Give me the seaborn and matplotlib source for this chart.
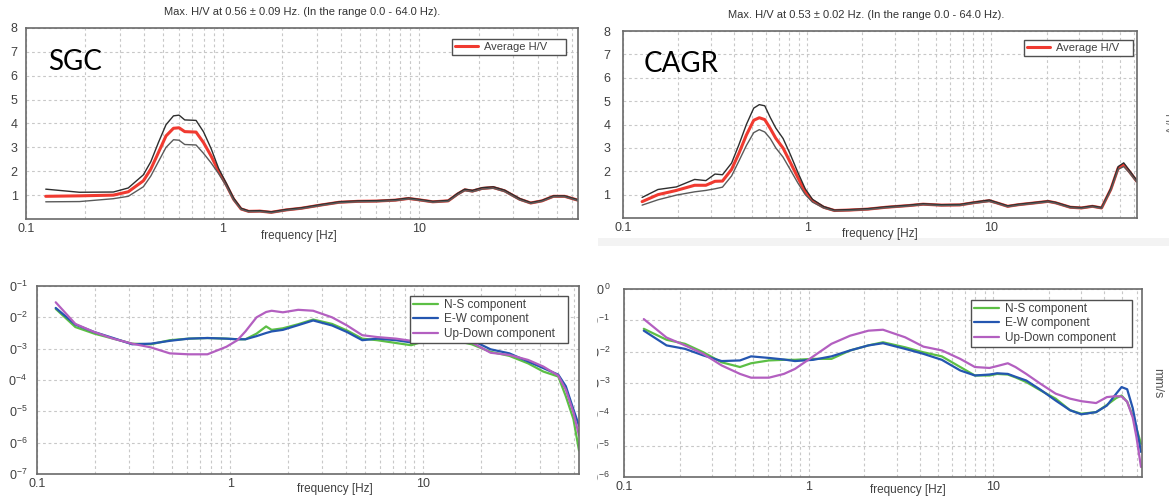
import matplotlib
matplotlib.use("Agg")
import matplotlib.pyplot as plt
import matplotlib.ticker as mticker
from matplotlib.patches import Rectangle
import numpy as np
import seaborn as sns

# ---- SGC, H/V (top left) ----
sgc_freq = [0.126, 0.187, 0.278, 0.331, 0.395, 0.431, 0.471, 0.515, 0.562, 0.600,
            0.641, 0.732, 0.799, 0.873, 0.953, 1.04, 1.136, 1.24, 1.355, 1.546,
            1.765, 2.10, 2.51, 3.13, 3.90, 4.86, 6.05, 7.55, 8.80, 9.82,
            11.7, 14.0, 15.6, 17.0, 18.6, 20.8, 23.7, 27.1, 32.3, 36.8,
            42.0, 48.0, 54.7, 63.8]
sgc_hv = [0.95, 0.97, 1.0, 1.14, 1.6, 2.09, 2.78, 3.48, 3.80, 3.82,
          3.66, 3.64, 3.2, 2.64, 2.0, 1.45, 0.83, 0.42, 0.32, 0.33,
          0.28, 0.38, 0.45, 0.58, 0.70, 0.74, 0.75, 0.79, 0.86, 0.81,
          0.72, 0.76, 1.04, 1.22, 1.17, 1.28, 1.32, 1.18, 0.83, 0.67,
          0.76, 0.95, 0.95, 0.79]
sgc_hv_hi = [1.25, 1.12, 1.13, 1.30, 1.85, 2.40, 3.20, 3.95, 4.32, 4.35,
             4.15, 4.13, 3.65, 2.95, 2.12, 1.52, 0.88, 0.45, 0.34, 0.35,
             0.30, 0.40, 0.47, 0.60, 0.72, 0.76, 0.77, 0.81, 0.88, 0.83,
             0.74, 0.78, 1.07, 1.25, 1.20, 1.31, 1.35, 1.21, 0.86, 0.69,
             0.78, 0.97, 0.97, 0.81]
sgc_hv_lo = [0.72, 0.73, 0.85, 0.95, 1.35, 1.80, 2.40, 3.00, 3.32, 3.30,
             3.12, 3.10, 2.75, 2.35, 1.90, 1.40, 0.79, 0.40, 0.30, 0.31,
             0.26, 0.36, 0.43, 0.56, 0.68, 0.72, 0.73, 0.77, 0.84, 0.79,
             0.70, 0.74, 1.01, 1.19, 1.14, 1.25, 1.29, 1.15, 0.80, 0.65,
             0.74, 0.93, 0.93, 0.77]

# ---- CAGR, H/V (top right) ----
cagr_freq = [0.127, 0.155, 0.195, 0.245, 0.282, 0.316, 0.347, 0.389, 0.427, 0.468,
             0.513, 0.550, 0.589, 0.631, 0.676, 0.741, 0.813, 0.891, 0.977, 1.07,
             1.23, 1.41, 1.70, 2.14, 2.69, 3.55, 4.27, 5.37, 6.76, 8.13,
             9.77, 10.7, 12.3, 14.1, 17.0, 20.4, 22.4, 26.9, 30.9, 35.5,
             39.8, 44.7, 49.0, 52.5, 56.2, 61.7]
cagr_hv = [0.70, 1.00, 1.18, 1.40, 1.40, 1.57, 1.58, 2.08, 2.78, 3.55,
           4.18, 4.29, 4.21, 3.83, 3.41, 2.99, 2.36, 1.73, 1.12, 0.74,
           0.46, 0.32, 0.34, 0.38, 0.46, 0.53, 0.59, 0.55, 0.56, 0.66,
           0.74, 0.65, 0.50, 0.57, 0.64, 0.71, 0.65, 0.46, 0.43, 0.50,
           0.43, 1.23, 2.14, 2.28, 2.00, 1.58]
cagr_hv_hi = [0.88, 1.22, 1.33, 1.65, 1.60, 1.88, 1.85, 2.35, 3.15, 4.00,
              4.70, 4.85, 4.80, 4.30, 3.85, 3.40, 2.70, 1.95, 1.25, 0.80,
              0.49, 0.34, 0.36, 0.40, 0.48, 0.55, 0.61, 0.57, 0.58, 0.68,
              0.77, 0.67, 0.52, 0.59, 0.66, 0.73, 0.67, 0.48, 0.45, 0.52,
              0.45, 1.27, 2.20, 2.36, 2.05, 1.62]
cagr_hv_lo = [0.55, 0.78, 0.98, 1.12, 1.18, 1.25, 1.32, 1.80, 2.45, 3.10,
              3.65, 3.78, 3.68, 3.40, 3.00, 2.60, 2.05, 1.50, 1.00, 0.68,
              0.43, 0.30, 0.32, 0.36, 0.44, 0.51, 0.57, 0.53, 0.54, 0.64,
              0.71, 0.63, 0.48, 0.55, 0.62, 0.69, 0.63, 0.44, 0.41, 0.48,
              0.41, 1.19, 2.08, 2.20, 1.95, 1.54]

# ---- SGC spectra, log10 amplitude (bottom left) ----
sgc_sp_freq = [0.125, 0.158, 0.198, 0.248, 0.311, 0.389, 0.487, 0.61, 0.763, 0.956,
               1.09, 1.2, 1.37, 1.535, 1.64, 1.875, 2.25, 2.69, 3.37, 4.03,
               4.83, 5.78, 7.23, 8.66, 9.9, 12.0, 14.1, 17.8, 22.3, 27.9,
               34.9, 41.8, 50.0, 54.7, 59.9, 64.0]
sgc_ns = [-1.73, -2.31, -2.52, -2.68, -2.84, -2.86, -2.73, -2.68, -2.66, -2.68,
          -2.70, -2.70, -2.52, -2.29, -2.40, -2.35, -2.22, -2.07, -2.21, -2.42,
          -2.68, -2.73, -2.82, -2.89, -2.78, -2.70, -2.72, -2.86, -3.10, -3.23,
          -3.47, -3.73, -3.89, -4.52, -5.25, -6.25]
sgc_ew = [-1.70, -2.23, -2.47, -2.66, -2.86, -2.84, -2.75, -2.68, -2.66, -2.68,
          -2.70, -2.70, -2.60, -2.50, -2.45, -2.40, -2.25, -2.10, -2.26, -2.47,
          -2.73, -2.68, -2.73, -2.80, -2.75, -2.68, -2.68, -2.73, -3.02, -3.15,
          -3.41, -3.62, -3.83, -4.20, -4.94, -5.46]
sgc_ud = [-1.52, -2.21, -2.47, -2.68, -2.84, -2.96, -3.15, -3.18, -3.18, -2.94,
          -2.73, -2.45, -2.00, -1.83, -1.79, -1.84, -1.76, -1.79, -2.00, -2.26,
          -2.57, -2.63, -2.68, -2.75, -2.76, -2.72, -2.74, -2.80, -3.13, -3.20,
          -3.36, -3.57, -3.86, -4.31, -5.04, -5.77]

# ---- CAGR spectra, log10 amplitude (bottom right) ----
cagr_sp_freq = [0.128, 0.17, 0.214, 0.269, 0.338, 0.425, 0.488, 0.61, 0.735, 0.844,
                1.06, 1.33, 1.68, 2.11, 2.53, 3.33, 4.19, 5.27, 6.63, 7.96,
                9.55, 10.5, 12.0, 13.2, 15.1, 18.1, 21.8, 26.1, 30.0, 36.1,
                41.3, 46.4, 49.6, 53.2, 57.0, 59.7, 63.2]
cagr_ns = [-1.27, -1.62, -1.75, -2.02, -2.34, -2.49, -2.37, -2.28, -2.26, -2.26,
           -2.23, -2.23, -1.96, -1.80, -1.70, -1.86, -2.02, -2.15, -2.49, -2.76,
           -2.76, -2.71, -2.73, -2.82, -2.97, -3.24, -3.50, -3.87, -3.98, -3.93,
           -3.70, -3.48, -3.40, -3.60, -4.05, -4.45, -4.94]
cagr_ew = [-1.33, -1.80, -1.91, -2.12, -2.30, -2.28, -2.15, -2.20, -2.25, -2.30,
           -2.26, -2.15, -1.96, -1.80, -1.73, -1.91, -2.07, -2.26, -2.60, -2.76,
           -2.73, -2.69, -2.71, -2.80, -2.92, -3.22, -3.56, -3.87, -4.00, -3.93,
           -3.72, -3.34, -3.13, -3.20, -3.80, -4.40, -5.20]
cagr_ud = [-0.96, -1.55, -1.80, -2.07, -2.44, -2.71, -2.83, -2.83, -2.71, -2.55,
           -2.15, -1.75, -1.49, -1.33, -1.30, -1.54, -1.84, -1.96, -2.23, -2.49,
           -2.52, -2.46, -2.37, -2.49, -2.71, -3.03, -3.34, -3.50, -3.58, -3.64,
           -3.45, -3.42, -3.43, -3.60, -4.10, -4.72, -5.68]

sgc_title = "Max. H/V at 0.56 \u00b1 0.09 Hz. (In the range 0.0 - 64.0 Hz)."
cagr_title = "Max. H/V at 0.53 \u00b1 0.02 Hz. (In the range 0.0 - 64.0 Hz)."
bl_ylabels = ["0$^{-1}$", "0$^{-2}$", "0$^{-3}$", "0$^{-4}$", "0$^{-5}$", "0$^{-6}$", "0$^{-7}$"]
br_ylabels = ["10$^{0}$", "10$^{-1}$", "10$^{-2}$", "10$^{-3}$", "10$^{-4}$", "10$^{-5}$", "10$^{-6}$"]

RED = "#f03a30"
GREEN = "#5cbf45"
BLUE = "#2456b0"
PURPLE = "#b35fc0"
TXT = "#404040"

sns.set_theme(style="white")
plt.rcParams["font.family"] = ["Liberation Sans", "DejaVu Sans"]
plt.rcParams["mathtext.fontset"] = "custom"
plt.rcParams["mathtext.rm"] = "Liberation Sans"
plt.rcParams["mathtext.default"] = "regular"

W, H = 1169, 501
fig = plt.figure(figsize=(W / 100, H / 100), dpi=100)


def px_axes(x0, y0, x1, y1):
    return fig.add_axes([x0 / W, 1 - y1 / H, (x1 - x0) / W, (y1 - y0) / H])


def style_axes(ax, xmax, ypad):
    ax.set_xscale("log")
    ax.set_xlim(0.1, xmax)
    ax.xaxis.set_major_locator(mticker.FixedLocator([0.1, 1, 10]))
    ax.xaxis.set_major_formatter(mticker.FixedFormatter(["0.1", "1", "10"]))
    ax.xaxis.set_minor_locator(mticker.LogLocator(base=10, subs=np.arange(2, 10)))
    ax.xaxis.set_minor_formatter(mticker.NullFormatter())
    ax.grid(True, which="both", axis="x", color="#c8c8c8", linestyle=(0, (2.5, 2.5)), linewidth=0.8)
    ax.grid(True, which="major", axis="y", color="#c8c8c8", linestyle=(0, (2.5, 2.5)), linewidth=0.8)
    ax.tick_params(which="both", length=0, labelsize=9, labelcolor=TXT)
    ax.tick_params(axis="y", pad=ypad)
    ax.tick_params(axis="x", pad=3)
    for s in ax.spines.values():
        s.set_color("#6a6a6a")
        s.set_linewidth(1.2)
    ax.set_facecolor("white")


def add_legend(ax, box, fontsize, spacing=0.5):
    # box = (left, top, width) of the legend frame in axes coords
    x0, top, w = box
    leg = ax.legend(loc="upper left", bbox_to_anchor=(x0, top - 0.5, w, 0.5), mode="expand",
                    borderaxespad=0, fancybox=False, framealpha=1, edgecolor="#505050",
                    fontsize=fontsize, handlelength=2.1, handletextpad=0.5,
                    borderpad=0.25, labelspacing=spacing)
    leg.get_frame().set_linewidth(1.0)
    for t in leg.get_texts():
        t.set_color(TXT)


def hv_panel(ax, freq, hv, hi, lo, title, tx, station, box):
    sns.lineplot(x=freq, y=hv, ax=ax, color=RED, linewidth=2.2, label="Average H/V")
    sns.lineplot(x=freq, y=hi, ax=ax, color="#2e2e2e", linewidth=1.0)
    sns.lineplot(x=freq, y=lo, ax=ax, color="#5a5a5a", linewidth=1.0)
    ax.set_ylim(0, 8)
    ax.set_yticks(range(1, 9))
    ax.text(tx, 1.085, title, transform=ax.transAxes, ha="center", va="center",
            fontsize=8, color="#333333")
    ax.text(0.04, 0.78, station, transform=ax.transAxes, ha="left", va="baseline",
            fontsize=20, family="Lato", color="black")
    add_legend(ax, box, 8)


def spec_panel(ax, freq, ns, ew, ud, box):
    sns.lineplot(x=freq, y=10.0 ** np.array(ns), ax=ax, color=GREEN, linewidth=1.6, label="N-S component")
    sns.lineplot(x=freq, y=10.0 ** np.array(ew), ax=ax, color=BLUE, linewidth=1.6, label="E-W component")
    sns.lineplot(x=freq, y=10.0 ** np.array(ud), ax=ax, color=PURPLE, linewidth=1.6, label="Up-Down component")
    ax.set_yscale("log")
    ax.yaxis.set_minor_locator(mticker.NullLocator())
    add_legend(ax, box, 8.5, spacing=0.2)


# top left
ax1 = px_axes(26, 28, 578, 219)
hv_panel(ax1, sgc_freq, sgc_hv, sgc_hv_hi, sgc_hv_lo, sgc_title, 0.5, "SGC", (0.772, 0.942, 0.2065))
style_axes(ax1, 64, 6)
ax1.set_xlabel("frequency [Hz]", fontsize=8.5, color=TXT)
ax1.xaxis.set_label_coords(0.494, -0.089)
ax1.xaxis.label.set_va("center")

# top right
ax2 = px_axes(623, 31, 1137, 218)
hv_panel(ax2, cagr_freq, cagr_hv, cagr_hv_hi, cagr_hv_lo, cagr_title, 0.473, "CAGR", (0.780, 0.952, 0.212))
style_axes(ax2, 62, 9)
ax2.set_xlabel("frequency [Hz]", fontsize=8.5, color=TXT)
ax2.xaxis.set_label_coords(0.5, -0.086)
ax2.xaxis.label.set_va("center")
ax2.text(1.0 + 30 / 514, 0.5, "H/V", transform=ax2.transAxes, rotation=-90,
         ha="center", va="center", fontsize=9, color="#777777")

# bottom left
ax3 = px_axes(37, 286, 579, 474)
spec_panel(ax3, sgc_sp_freq, sgc_ns, sgc_ew, sgc_ud, (0.688, 0.947, 0.2915))
style_axes(ax3, 64, 7)
ax3.set_ylim(1e-7, 1e-1)
ax3.set_yticks([1e-1, 1e-2, 1e-3, 1e-4, 1e-5, 1e-6, 1e-7])
ax3.set_yticklabels(bl_ylabels)
ax3.set_xlabel("frequency [Hz]", fontsize=8.5, color=TXT)
ax3.xaxis.set_label_coords(0.55, -0.08)
ax3.xaxis.label.set_va("center")

# bottom right
ax4 = px_axes(624, 289, 1142, 477)
spec_panel(ax4, cagr_sp_freq, cagr_ns, cagr_ew, cagr_ud, (0.670, 0.941, 0.311))
style_axes(ax4, 64, 10)
ax4.set_ylim(1e-6, 1e0)
ax4.set_yticks([1e0, 1e-1, 1e-2, 1e-3, 1e-4, 1e-5, 1e-6])
ax4.set_yticklabels(br_ylabels)
ax4.set_xlabel("frequency [Hz]", fontsize=8.5, color=TXT)
ax4.xaxis.set_label_coords(0.548, -0.07)
ax4.xaxis.label.set_va("center")
ax4.text(1.0 + 15 / 518, 0.5, "mm/s", transform=ax4.transAxes, rotation=-90,
         ha="center", va="center", fontsize=9, color="#555555")

# the source is a collage: bottom right labels are cut at the seam
fig.add_artist(Rectangle((582 / W, 0), 15 / W, 0.46, transform=fig.transFigure,
                         facecolor="white", edgecolor="none", zorder=10))
fig.add_artist(Rectangle((598 / W, 1 - 246 / H), (W - 598) / W, 8 / H, transform=fig.transFigure,
                         facecolor="#f3f3f3", edgecolor="none", zorder=-1))

fig.savefig("out.png", dpi=100, facecolor="white")
